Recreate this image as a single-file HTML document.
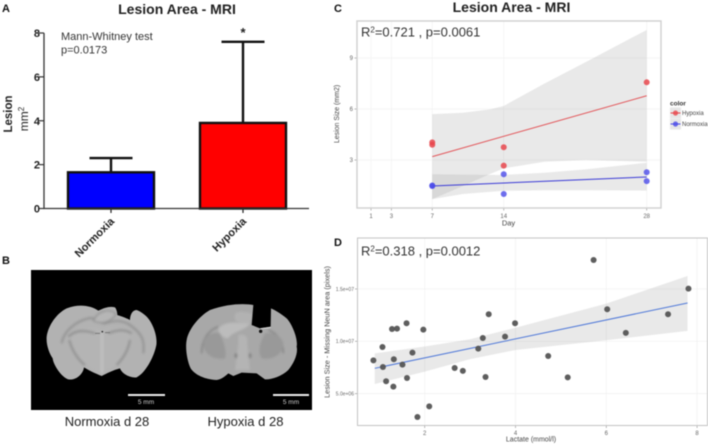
<!DOCTYPE html>
<html lang="en">
<head>
<meta charset="utf-8">
<title>Lesion Area - MRI</title>
<style>
html,body{margin:0;padding:0;background:#fff;width:708px;height:445px;overflow:hidden}
svg{display:block;filter:blur(.45px)}
text{font-family:"Liberation Sans",sans-serif}
</style>
</head>
<body>
<svg id="fig" xmlns="http://www.w3.org/2000/svg" width="708" height="445" viewBox="0 0 708 445">
  <defs>
    <filter id="soft" x="-10%" y="-10%" width="120%" height="120%"><feGaussianBlur stdDeviation="3.5"/></filter>
    <clipPath id="brain1clip"><path d="M205 62C185 48 150 40 110 55C80 70 55 105 50 140C48 165 58 190 68 205C70 225 95 262 115 268C140 272 160 250 162 232C175 240 195 250 215 258C230 250 250 240 270 235C275 250 300 265 320 262C345 250 370 205 378 170C385 145 370 100 350 80C340 70 325 60 318 60C305 62 300 78 300 90C285 82 270 78 262 75C262 65 258 55 255 52C240 48 225 52 205 62Z"/></clipPath>
    <clipPath id="brain2clip"><path d="M250 45C225 40 175 40 120 60C85 80 55 120 50 150C45 175 52 215 62 235C75 255 105 268 140 270C155 268 170 255 175 250L190 258L215 248L260 250L285 268C300 270 335 260 355 240C372 220 385 190 380 170C385 145 365 100 350 85C335 72 315 60 303 55L302 110L270 115L245 105Z"/></clipPath>
  </defs>

  <g id="panel-a"></g>

  <g id="panel-b">
    <text x="2" y="264" font-size="11" font-weight="bold" fill="#111">B</text>
    <rect x="31" y="270" width="281" height="140" fill="#000"/>
    <g transform="translate(30 290) scale(.3333)">
      <g clip-path="url(#brain1clip)">
        <rect x="0" y="0" width="420" height="300" fill="#b2b2b2"/>
        <g filter="url(#soft)">
          <path d="M95 160C100 125 135 95 175 85C195 80 210 100 225 100C245 95 270 85 300 105C335 130 345 150 340 190" fill="none" stroke="#979797" stroke-width="7"/>
          <path d="M125 140C120 190 170 235 215 250C265 230 305 185 300 135C280 115 250 105 215 120C185 105 150 115 125 140Z" fill="#b4b4b4"/>
          <path d="M115 140C135 120 165 120 195 130M235 130C255 122 280 115 305 130M118 150C125 180 145 210 165 225M300 150C295 180 280 205 260 225" fill="none" stroke="#949494" stroke-width="7"/>
          <path d="M190 92C205 60 240 55 258 72C245 95 215 105 190 92Z" fill="#b6b6b6" stroke="#929292" stroke-width="4"/>
          <path d="M216 130V250" stroke="#c8c8c8" stroke-width="5" fill="none"/>
        </g>
      </g>
      <circle cx="217" cy="125" r="2.5" fill="#222"/>
      <path d="M195 130H210M225 128H240" stroke="#777" stroke-width="3"/>
    </g>
    <g transform="translate(170 290) scale(.3333)">
      <g clip-path="url(#brain2clip)">
        <rect x="0" y="0" width="420" height="300" fill="#a8a8a8"/>
        <g filter="url(#soft)">
          <path d="M95 190C95 150 115 120 145 110M340 190C340 160 325 130 295 120" fill="none" stroke="#888" stroke-width="5"/>
          <path d="M100 165C100 135 130 125 150 130C165 165 170 190 165 205C140 210 105 200 100 165Z" fill="#999"/>
          <path d="M340 165C340 140 310 125 285 130C265 165 265 190 275 205C300 210 335 200 340 165Z" fill="#999"/>
          <path d="M145 115C170 90 200 100 240 100C230 120 185 125 175 145C160 145 145 130 145 115Z" fill="#bcbcbc"/>
          <path d="M205 135C225 130 235 140 232 160L240 240H195L205 160Z" fill="#b4b4b4"/>
          <path d="M195 70C215 60 240 70 248 72L240 100C225 100 205 100 195 90Z" fill="#b2b2b2"/>
          <ellipse cx="198" cy="197" rx="4" ry="8" fill="#808080"/>
          <ellipse cx="240" cy="197" rx="4" ry="8" fill="#808080"/>
        </g>
      </g>
      <path d="M272 116L302 112" stroke="#ddd" stroke-width="3"/>
      <circle cx="272" cy="124" r="5" fill="#111"/>
    </g>
    <rect x="128" y="394" width="37" height="2" fill="#eee"/>
    <text x="146" y="404" font-size="6.5" fill="#ccc" text-anchor="middle">5 mm</text>
    <rect x="273" y="394" width="36" height="2" fill="#eee"/>
    <text x="291" y="404" font-size="6.5" fill="#ccc" text-anchor="middle">5 mm</text>
    <text x="107" y="426" font-size="13" fill="#222" text-anchor="middle">Normoxia d 28</text>
    <text x="245.5" y="426" font-size="13" fill="#222" text-anchor="middle">Hypoxia d 28</text>
  </g>

  <g id="panel-c"></g>
  <g id="panel-d"></g>
</svg>

<script>
/* Panel A data */
const barGroups = ['Normoxia', 'Hypoxia'];
const barMeans = [1.65, 3.9];
const barErrorTops = [2.3, 7.6];
const barTicks = [0, 2, 4, 6, 8];

/* Panel C data */
const dayTicks = [1, 3, 7, 14, 28];
const sizeTicks = [3, 6, 9];
const hypoxiaDays = [7, 7, 14, 14, 28];
const hypoxiaSizes = [4.04, 3.9, 3.75, 2.67, 7.57];
const normoxiaDays = [7, 7, 14, 14, 28, 28];
const normoxiaSizes = [1.47, 1.5, 2.16, 1.0, 2.28, 1.76];
const lineDays = [7, 28];
const hypoxiaFit = [3.2, 6.78];
const normoxiaFit = [1.47, 2.0];
const hypoxiaBandDays = [7, 10, 12.65, 14, 18, 22, 28];
const hypoxiaBandUpper = [5.7, 5.78, 5.98, 6.18, 7.5, 8.75, 10.65];
const hypoxiaBandLower = [0.7, 1.47, 2.18, 2.51, 2.9, 3.0, 2.9];
const normoxiaBandDays = [7, 10, 14, 18, 22, 28];
const normoxiaBandUpper = [2.16, 2.14, 2.12, 2.25, 2.45, 2.84];
const normoxiaBandLower = [0.7, 1.0, 1.19, 1.22, 1.22, 1.2];

/* Panel D data (lesion size in millions of pixels) */
const lactateTicks = [2, 4, 6, 8];
const lesionTicks = [5, 10, 15];
const lesionTickLabels = ['5.0e+06', '1.0e+07', '1.5e+07'];
const lactateValues = [0.87, 1.07, 1.08, 1.15, 1.28, 1.39, 1.60, 1.32, 1.31, 1.51, 1.61, 1.73, 1.97, 1.84, 2.10, 2.66, 2.84, 3.18, 3.28, 3.34, 3.41, 3.77, 3.99, 4.72, 5.15, 5.72, 6.02, 6.43, 7.36, 7.81];
const lesionValues = [8.18, 9.46, 7.55, 6.18, 11.18, 11.21, 11.72, 8.28, 5.67, 7.77, 6.5, 8.92, 11.11, 2.77, 3.79, 7.45, 7.17, 9.3, 10.32, 6.59, 12.58, 10.45, 11.72, 8.6, 6.56, 17.77, 13.06, 10.8, 12.58, 15.03];
const lactateFitX = [0.9, 7.79];
const lactateFitY = [7.42, 13.66];
const lactateBandX = [0.9, 2, 3, 4, 6, 7.79];
const lactateBandUpper = [8.85, 9.5, 10.2, 11.3, 13.6, 16.24];
const lactateBandLower = [5.92, 7.1, 8.3, 9.17, 10.1, 10.99];

const NS = 'http://www.w3.org/2000/svg';
function mk(parent, tag, attrs, txt) {
  const n = document.createElementNS(NS, tag);
  for (const k in attrs) n.setAttribute(k, attrs[k]);
  if (txt !== undefined) n.textContent = txt;
  parent.appendChild(n);
  return n;
}
function pts(xs, ys, fx, fy) {
  return xs.map((x, i) => fx(x).toFixed(2) + ',' + fy(ys[i]).toFixed(2));
}
let el;

/* ---------- Panel A ---------- */
const pa = document.getElementById('panel-a');
const yA = v => 208.5 - v * 175.5 / 8;
const xA = i => 111 + i * 132;

el = mk(pa, 'text', {x: 2, y: 12, 'font-size': 11, 'font-weight': 'bold', fill: '#111'}, 'A');


el = mk(pa, 'text', {x: 177, y: 14, 'font-size': 14, 'font-weight': 'bold', fill: '#222', 'text-anchor': 'middle'}, 'Lesion Area - MRI');


el = mk(pa, 'text', {x: 61, y: 40, 'font-size': 11, fill: '#333'}, 'Mann-Whitney test');


el = mk(pa, 'text', {x: 61, y: 53.5, 'font-size': 11, fill: '#333'}, 'p=0.0173');


el = mk(pa, 'text', {x: 243, y: 37, 'font-size': 13, 'font-weight': 'bold', fill: '#222', 'text-anchor': 'middle'}, '*');


el = mk(pa, 'text', {transform: 'translate(12 114) rotate(-90)', 'font-size': 11.5, 'font-weight': 'bold', fill: '#222', 'text-anchor': 'middle'}, 'Lesion');


el = mk(pa, 'text', {transform: 'translate(28 119) rotate(-90)', 'font-size': 12, fill: '#222', 'text-anchor': 'middle'}, 'mm');


mk(el, 'tspan', {dy: -4, 'font-size': 8}, '2');

barGroups.forEach((g, i) => {
  const cx = xA(i);
  const eb = mk(pa, 'path', {d: 'M' + cx + ' ' + yA(barMeans[i]) + 'V' + yA(barErrorTops[i]) + 'M' + (cx - 21.5) + ' ' + yA(barErrorTops[i]) + 'H' + (cx + 21.5), stroke: '#111', 'stroke-width': 2.4, fill: 'none'});
  
  
  const r = mk(pa, 'rect', {x: cx - 43, y: yA(barMeans[i]), width: 86, height: yA(0) - yA(barMeans[i]), fill: i ? '#ff0000' : '#0000ff', stroke: '#111', 'stroke-width': 2.4});
  
  
  const t = mk(pa, 'path', {d: 'M' + cx + ' 208V213', stroke: '#222', 'stroke-width': 1.2});
  
  
  const l = mk(pa, 'text', {transform: 'translate(' + (cx + 4) + ' 222) rotate(-45)', 'font-size': 11, 'font-weight': 'bold', fill: '#222', 'text-anchor': 'end'}, g);
  
  
});
el = mk(pa, 'path', {d: 'M44 ' + yA(8) + 'V' + yA(0) + 'H309', stroke: '#333', 'stroke-width': 1.3, fill: 'none'});


barTicks.forEach(v => {
  const t = mk(pa, 'path', {d: 'M39 ' + yA(v) + 'H44', stroke: '#333', 'stroke-width': 1.2});
  
  
  const l = mk(pa, 'text', {x: 40, y: yA(v) + 4, 'font-size': 11, 'font-weight': 'bold', fill: '#222', 'text-anchor': 'end'}, v);
  
  
});

/* ---------- Panel C ---------- */
const pc = document.getElementById('panel-c');
const xC = d => 371 + (d - 1) * 275.7 / 27;
const yC = v => 160 - (v - 3) * 17;
const C = {l: 357, r: 661, t: 21, b: 208};

el = mk(pc, 'text', {x: 334, y: 12, 'font-size': 11, 'font-weight': 'bold', fill: '#111'}, 'C');


el = mk(pc, 'text', {x: 511.5, y: 12, 'font-size': 14, 'font-weight': 'bold', fill: '#222', 'text-anchor': 'middle'}, 'Lesion Area - MRI');


el = mk(pc, 'rect', {x: C.l, y: C.t, width: C.r - C.l, height: C.b - C.t, fill: '#fff'});


dayTicks.forEach(d => {
  const g = mk(pc, 'path', {d: 'M' + xC(d) + ' ' + C.t + 'V' + C.b, stroke: '#f2f2f2', 'stroke-width': .7});
  
  
  const t = mk(pc, 'path', {d: 'M' + xC(d) + ' ' + C.b + 'V' + (C.b + 2.5), stroke: '#888', 'stroke-width': .6});
  
  
  const l = mk(pc, 'text', {x: xC(d), y: 218, 'font-size': 6, fill: '#666', 'text-anchor': 'middle'}, d);
  
  
});
sizeTicks.forEach(v => {
  const g = mk(pc, 'path', {d: 'M' + C.l + ' ' + yC(v) + 'H' + C.r, stroke: '#f2f2f2', 'stroke-width': .7});
  
  
  const t = mk(pc, 'path', {d: 'M' + (C.l - 2.5) + ' ' + yC(v) + 'H' + C.l, stroke: '#888', 'stroke-width': .6});
  
  
  const l = mk(pc, 'text', {x: 353, y: yC(v) + 2, 'font-size': 6, fill: '#666', 'text-anchor': 'end'}, v);
  
  
});
el = mk(pc, 'polygon', {points: pts(hypoxiaBandDays, hypoxiaBandUpper, xC, yC).concat(pts(hypoxiaBandDays, hypoxiaBandLower, xC, yC).reverse()).join(' '), fill: '#999', 'fill-opacity': .22});


el = mk(pc, 'polygon', {points: pts(normoxiaBandDays, normoxiaBandUpper, xC, yC).concat(pts(normoxiaBandDays, normoxiaBandLower, xC, yC).reverse()).join(' '), fill: '#999', 'fill-opacity': .22});


el = mk(pc, 'polyline', {points: pts(lineDays, hypoxiaFit, xC, yC).join(' '), fill: 'none', stroke: '#e2565a', 'stroke-width': 1});


el = mk(pc, 'polyline', {points: pts(lineDays, normoxiaFit, xC, yC).join(' '), fill: 'none', stroke: '#3a3ad6', 'stroke-width': 1});


hypoxiaDays.forEach((d, i) => {
  const p = mk(pc, 'circle', {cx: xC(d), cy: yC(hypoxiaSizes[i]), r: 3, fill: '#e8474c', 'fill-opacity': .85});
  
  
});
normoxiaDays.forEach((d, i) => {
  const p = mk(pc, 'circle', {cx: xC(d), cy: yC(normoxiaSizes[i]), r: 3, fill: '#4a4ae8', 'fill-opacity': .8});
  
  
});
el = mk(pc, 'rect', {x: C.l, y: C.t, width: C.r - C.l, height: C.b - C.t, fill: 'none', stroke: '#cfcfcf', 'stroke-width': 1.4});


el = mk(pc, 'text', {x: 361, y: 36.5, 'font-size': 13, fill: '#333'}, 'R');


mk(el, 'tspan', {dy: -4, 'font-size': 8}, '2');
mk(el, 'tspan', {dy: 4}, '=0.721 , p=0.0061');
el = mk(pc, 'text', {transform: 'translate(339 114) rotate(-90)', 'font-size': 7, fill: '#444', 'text-anchor': 'middle'}, 'Lesion Size (mm2)');


el = mk(pc, 'text', {x: 508.5, y: 225.5, 'font-size': 7.5, fill: '#444', 'text-anchor': 'middle'}, 'Day');


el = mk(pc, 'text', {x: 670, y: 105.5, 'font-size': 6.5, 'font-weight': 'bold', fill: '#333'}, 'color');


[['Hypoxia', '#e8474c', 107.5], ['Normoxia', '#4a4ae8', 118.5]].forEach(e => {
  const g = mk(pc, 'g', {});
  
  
  mk(g, 'rect', {x: 670, y: e[2], width: 11, height: 11, fill: '#e6e6e6', stroke: '#f4f4f4', 'stroke-width': .5});
  mk(g, 'path', {d: 'M670.5 ' + (e[2] + 5.5) + 'H680.5', stroke: e[1], 'stroke-width': 1});
  mk(g, 'circle', {cx: 675.5, cy: e[2] + 5.5, r: 2.6, fill: e[1], 'fill-opacity': .8});
  mk(g, 'text', {x: 682, y: e[2] + 7.7, 'font-size': 6, fill: '#444'}, e[0]);
});

/* ---------- Panel D ---------- */
const pd = document.getElementById('panel-d');
const xD = v => 424.7 + (v - 2) * 45.4;
const yD = v => 341.3 - (v - 10) * 10.47;
const D = {l: 357.5, r: 707.5, t: 238, b: 425.5};

el = mk(pd, 'rect', {x: D.l, y: D.t, width: D.r - D.l, height: D.b - D.t, fill: '#fff'});


lactateTicks.forEach(v => {
  const g = mk(pd, 'path', {d: 'M' + xD(v) + ' ' + D.t + 'V' + D.b, stroke: '#f0f0f0', 'stroke-width': .7});
  
  
  const t = mk(pd, 'path', {d: 'M' + xD(v) + ' ' + D.b + 'V' + (D.b + 2.5), stroke: '#888', 'stroke-width': .6});
  
  
  const l = mk(pd, 'text', {x: xD(v), y: 435, 'font-size': 6, fill: '#666', 'text-anchor': 'middle'}, v);
  
  
});
lesionTicks.forEach((v, i) => {
  const g = mk(pd, 'path', {d: 'M' + D.l + ' ' + yD(v) + 'H' + D.r, stroke: '#f0f0f0', 'stroke-width': .7});
  
  
  const t = mk(pd, 'path', {d: 'M' + (D.l - 2.5) + ' ' + yD(v) + 'H' + D.l, stroke: '#888', 'stroke-width': .6});
  
  
  const l = mk(pd, 'text', {x: 354, y: yD(v) + 1.8, 'font-size': 5, fill: '#666', 'text-anchor': 'end'}, lesionTickLabels[i]);
  
  
});
el = mk(pd, 'polygon', {points: pts(lactateBandX, lactateBandUpper, xD, yD).concat(pts(lactateBandX, lactateBandLower, xD, yD).reverse()).join(' '), fill: '#999', 'fill-opacity': .22});


el = mk(pd, 'polyline', {points: pts(lactateFitX, lactateFitY, xD, yD).join(' '), fill: 'none', stroke: '#4f78d8', 'stroke-width': 1});


lactateValues.forEach((v, i) => {
  const p = mk(pd, 'circle', {cx: xD(v), cy: yD(lesionValues[i]), r: 3, fill: '#555', 'fill-opacity': .95});
  
  
});
el = mk(pd, 'rect', {x: D.l, y: D.t, width: D.r - D.l, height: D.b - D.t, fill: 'none', stroke: '#c4c4c4', 'stroke-width': 1});


el = mk(pd, 'text', {x: 334, y: 246, 'font-size': 11, 'font-weight': 'bold', fill: '#111'}, 'D');


el = mk(pd, 'text', {x: 361, y: 255.5, 'font-size': 13, fill: '#333'}, 'R');


mk(el, 'tspan', {dy: -4, 'font-size': 8}, '2');
mk(el, 'tspan', {dy: 4}, '=0.318 , p=0.0012');
el = mk(pd, 'text', {transform: 'translate(329.5 332) rotate(-90)', 'font-size': 7.3, fill: '#444', 'text-anchor': 'middle'}, 'Lesion Size - Missing NeuN area (pixels)');


el = mk(pd, 'text', {x: 531, y: 441.5, 'font-size': 7, fill: '#444', 'text-anchor': 'middle'}, 'Lactate (mmol/l)');


</script>
</body>
</html>
